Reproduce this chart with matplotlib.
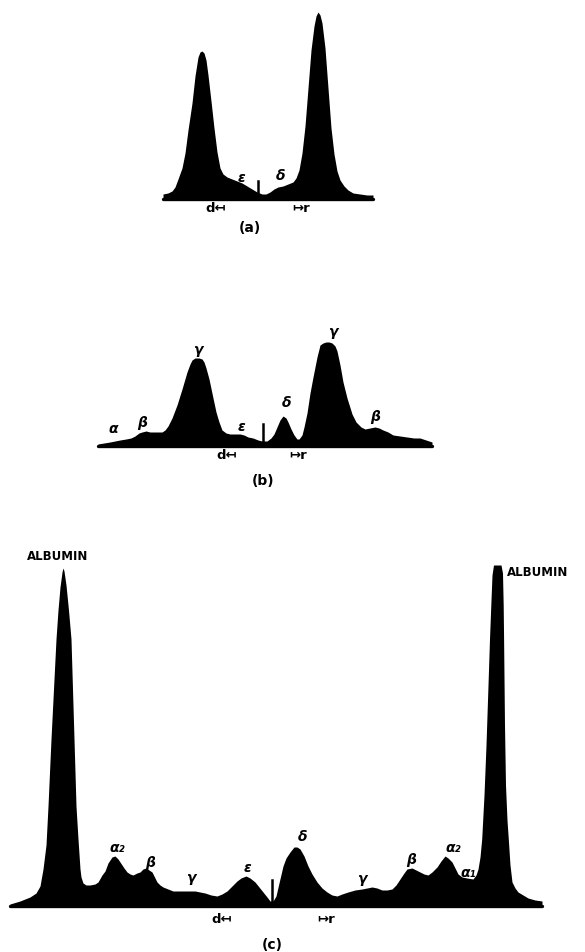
import matplotlib
matplotlib.use("Agg")
import matplotlib.pyplot as plt

# ---------------- data (position, densitometer height) ----------------
# Panel (a)
a_pos = [163, 168, 172, 175, 178, 182, 185, 188, 192, 195, 198, 200, 202, 204, 206, 208,
         211, 214, 217, 220, 223, 227, 232, 237, 242, 247, 252, 257, 262, 266, 270, 274,
         278, 283, 288, 293, 296, 299, 302, 305, 308, 311, 314, 316, 318, 320, 322, 325,
         328, 331, 334, 337, 340, 344, 348, 353, 360, 367, 373]
a_val = [4, 5, 7, 11, 19, 30, 45, 68, 95, 122, 141, 146, 147, 145, 138, 123,
         97, 70, 46, 30, 24, 21, 19, 17, 15, 12, 9, 6, 4, 4, 6, 9,
         11, 12, 14, 16, 20, 28, 45, 72, 110, 148, 172, 182, 186, 183, 175, 150,
         110, 70, 44, 27, 18, 12, 8, 5, 4, 3, 3]

# Panel (b)
b_pos = [98, 104, 110, 115, 120, 126, 131, 135, 139, 142, 146, 150, 156, 162, 165, 168,
         172, 177, 182, 187, 190, 192, 195, 199, 202, 204, 206, 209, 213, 216, 219, 222,
         226, 230, 235, 240, 244, 248, 253, 258, 262, 267, 271, 274, 277, 280, 283, 286,
         288, 291, 294, 297, 299, 302, 304, 307, 310, 313, 317, 320, 323, 326, 329, 332,
         335, 337, 340, 343, 347, 352, 356, 361, 365, 370, 375, 379, 383, 388, 393, 400,
         407, 414, 420, 426, 432]
b_val = [1, 2, 3, 4, 5, 6, 7, 9, 12, 13, 14, 13, 13, 13, 15, 19,
         27, 40, 56, 73, 81, 85, 87, 87, 86, 83, 77, 66, 47, 33, 23, 15,
         12, 11, 11, 11, 10, 8, 7, 5, 4, 4, 7, 11, 18, 25, 29, 27,
         23, 16, 10, 6, 6, 10, 18, 32, 52, 68, 88, 100, 102, 103, 103, 102,
         99, 94, 80, 63, 47, 31, 23, 18, 16, 17, 18, 17, 15, 13, 10, 9,
         8, 7, 7, 5, 3]

# Panel (c)
c_pos = [10, 20, 30, 36, 40, 43, 46, 48, 51, 56, 58, 60, 62, 63, 64, 66,
         68.5, 71, 74, 76, 78, 80, 81, 83, 86, 90, 95, 98, 102, 105,
         108, 112, 115, 118, 120, 124, 127, 130, 133, 137, 140, 143, 146, 149, 152, 155,
         157, 160, 163, 168, 173, 180, 188, 195, 200, 205, 211, 217, 222, 227, 232, 237,
         241, 246, 250, 255, 259, 263, 267, 270, 273, 276, 279, 283, 286, 290, 294, 297,
         300, 304, 308, 312, 317, 322, 327, 332, 337, 342, 348, 355, 362, 367, 372, 377,
         382, 387, 392, 396, 400, 404, 407, 412, 416, 420, 424, 428, 432, 437, 441, 445,
         448, 452, 455, 458, 462, 467, 473, 476, 478, 480, 481.7, 484, 486, 488, 489.5, 491,
         492, 493.5, 501, 502.5, 503.2, 503.6, 504.5, 505.5, 507, 508.3, 510, 512, 515, 518,
         523, 528, 535, 542]
c_val = [1, 4, 8, 12, 19, 36, 60, 99, 166, 266, 295, 318, 333, 337, 334, 320,
         295, 266, 166, 99, 66, 36, 28, 22, 20, 20, 21, 23, 30, 34,
         42, 48, 49, 46, 43, 37, 33, 31, 30, 32, 33, 36, 37, 35, 33, 27,
         23, 20, 18, 16, 14, 14, 14, 14, 13, 12, 10, 9, 11, 14, 19, 24,
         27, 29, 27, 23, 18, 13, 8, 4, 4, 9, 22, 39, 47, 53, 58, 58,
         56, 49, 39, 31, 23, 17, 13, 10, 9, 11, 13, 15, 16, 17, 18, 17,
         15, 15, 16, 20, 26, 32, 36, 37, 35, 33, 31, 30, 33, 38, 44, 49,
         47, 43, 37, 31, 28, 27, 26, 30, 36, 48, 66, 110, 160, 220, 266, 305,
         330, 340, 340, 332, 300, 266, 180, 120, 85, 66, 40, 23, 17, 13,
         10, 7, 5, 4]

# Boundary markers (position, height)
a_mark = (258, 17)
b_mark = (263, 21)
c_mark = (272, 25)

# Labels: (text, position, height)
a_labels = [("ε", 242, 21), ("δ", 281, 23)]
b_labels = [("α", 113, 17), ("β", 142, 23), ("γ", 198, 96), ("ε", 242, 19),
            ("δ", 287, 43), ("γ", 333, 114), ("β", 375, 29)]
c_labels = [("α₂", 117, 58), ("β", 150, 43), ("γ", 191, 28), ("ε", 247, 38),
            ("δ", 303, 69), ("γ", 362, 27), ("β", 411, 46), ("α₂", 453, 58),
            ("α₁", 468, 33)]

panel_titles = ["(a)", "(b)", "(c)"]

# ---------------- drawing ----------------
W, H = 585, 953
fig = plt.figure(figsize=(W / 100, H / 100), dpi=100)
fig.patch.set_facecolor("white")

def make_ax(top_px, bottom_px, base_px):
    ax = fig.add_axes([0, (H - bottom_px) / H, 1, (bottom_px - top_px) / H])
    ax.set_xlim(0, W)
    ax.set_ylim(base_px - bottom_px, base_px - top_px)
    ax.axis("off")
    return ax

greek_kw = dict(fontsize=10, fontweight="bold", fontstyle="italic",
                ha="center", va="center", color="black")
arrow_kw = dict(fontsize=9.5, fontweight="bold", ha="center", va="center", color="black")

def draw_panel(ax, pos, val, mark, labels, dlx, rrx, dy, title, tx, ty):
    ax.fill_between(pos, -2, val, color="black", lw=0)
    ax.plot([pos[0], pos[-1]], [-0.5, -0.5], color="black", lw=2.4,
            solid_capstyle="round")
    ax.plot([mark[0], mark[0]], [2, mark[1]], color="black", lw=1.8)
    for t, x, y in labels:
        ax.text(x, y, t, **greek_kw)
    ax.text(dlx, dy, "d↤", **arrow_kw)
    ax.text(rrx, dy, "↦r", **arrow_kw)
    ax.text(tx, ty, title, fontsize=10, fontweight="bold", ha="center",
            va="center", color="black")

ax_a = make_ax(0, 240, 199)
draw_panel(ax_a, a_pos, a_val, a_mark, a_labels, 216, 301, -10, panel_titles[0], 250, -29)

ax_b = make_ax(300, 500, 446)
draw_panel(ax_b, b_pos, b_val, b_mark, b_labels, 227, 298, -10, panel_titles[1], 263, -35)

ax_c = make_ax(540, 953, 906)
draw_panel(ax_c, c_pos, c_val, c_mark, c_labels, 222, 326, -14, panel_titles[2], 272, -39)
ax_c.text(58, 350, "ALBUMIN", fontsize=8.5, fontweight="bold", ha="center",
          va="center", color="black")
ax_c.text(507, 333, "ALBUMIN", fontsize=8.5, fontweight="bold", ha="left",
          va="center", color="black", clip_on=False)

fig.savefig("out.png", dpi=100, facecolor="white")
